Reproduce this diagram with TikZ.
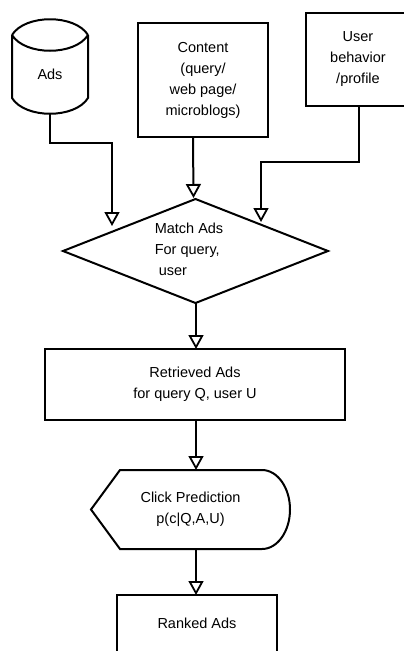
\documentclass[tikz,border=0pt]{standalone}
\usepackage{fontspec}
\setmainfont{Liberation Sans}
\usetikzlibrary{arrows.meta,calc}
\begin{document}
\begin{tikzpicture}[x=1pt,y=-1pt,
  line width=2pt,
  every node/.style={font=\fontsize{14.5}{21}\selectfont, inner sep=0pt, outer sep=0pt},
  box/.style={draw, rectangle},
  arr/.style={-{Triangle[open,length=14pt,width=15pt,line width=1.8pt]}},
  plain/.style={draw=none, rectangle}]
\useasboundingbox (0,0) rectangle (404,651);
% Ads cylinder
\node[plain, minimum width=76pt, minimum height=79pt] (ads) at (50,74.5) {Ads};
\draw (12,35) .. controls (25,14) and (75,14) .. (88,35)
      (12,35) .. controls (25,56) and (75,56) .. (88,35)
      (12,35) -- (12,98) .. controls (25,119) and (75,119) .. (88,98) -- (88,35);
% Content
\node[box, minimum width=130pt, minimum height=114pt, align=center] (content) at (203,80)
  {Content\\(query/\\web page/\\microblogs)};
% User
\node[box, minimum width=104pt, minimum height=93pt, align=center] (user) at (358,59.5)
  {User\\behavior\\/profile};
% Match diamond
\node[plain, minimum width=265pt, minimum height=104pt] (match) at (195.5,251) {};
\draw (match.north) -- (match.east) -- (match.south) -- (match.west) -- cycle;
\node[align=left] (matchtxt) at (189,249) {Match Ads\\For query,\\\hspace{4pt}user};
% Retrieved
\node[box, minimum width=300pt, minimum height=71pt, align=center] (retr) at (195,384.5)
  {Retrieved Ads\\for query Q, user U};
% Click prediction
\node[plain, minimum width=199pt, minimum height=79pt, align=center] (click) at (190.5,509.5)
  {Click Prediction\\p(c|Q,A,U)};
\draw (click.west) -- (120,470) -- (262,470) arc[start angle=-90, end angle=90, x radius=28, y radius=39.5]
      -- (120,549) -- cycle;
% Ranked
\node[plain, minimum width=160pt, minimum height=56pt] (ranked) at (197,623) {Ranked Ads};
\draw ($(ranked.south west)+(0,4)$) -- (ranked.north west) -- (ranked.north east) -- ($(ranked.south east)+(0,4)$);
% connector coordinates
\coordinate (ja) at (112,143);
\coordinate (ta) at (112,226);
\coordinate (ju) at (261,162);
\coordinate (tu) at (261,222);
% connectors
\draw[arr] (ads.south) |- (ja) -- (ta);
\draw[arr] ($(content.south)+(-10,0)$) -- ($(match.north)+(-2,-1)$);
\draw[arr] ($(user.south)+(1,0)$) |- (ju) -- (tu);
\draw[arr] ($(match.south)+(0.5,0)$) -- ($(retr.north)+(1,0)$);
\draw[arr] ($(retr.south)+(1,0)$) -- ($(click.north)+(5.5,0)$);
\draw[arr] ($(click.south)+(5.5,0)$) -- ($(ranked.north)+(-1,0)$);
\end{tikzpicture}
\end{document}
